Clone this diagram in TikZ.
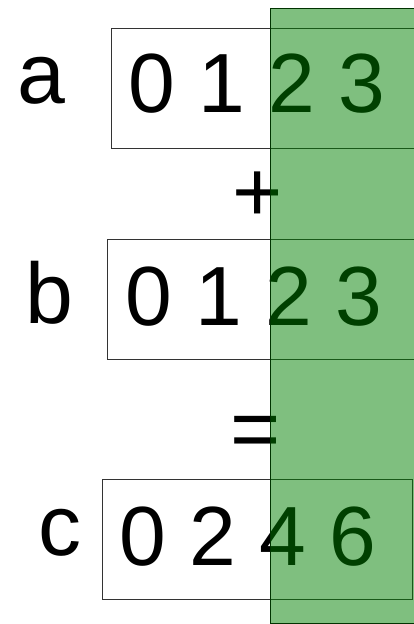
\documentclass[tikz,border=0pt]{standalone}
\usepackage{fontspec}
\setmainfont{Liberation Sans}
\begin{document}
\begin{tikzpicture}[x=1pt,y=1pt,
  box/.style={draw=black!80, line width=0.9pt, fill=white, rectangle, inner sep=0pt, anchor=north west},
  digits/.style={inner sep=0pt, anchor=base west, font=\fontsize{84}{84}\selectfont},
  lbl/.style={inner sep=0pt, anchor=base west, font=\fontsize{86}{86}\selectfont},
  op/.style={inner sep=0pt, anchor=base, font=\fontsize{86}{86}\selectfont},
  hilite/.style={draw=black!80!green, line width=0.9pt, fill=green!50!black, fill opacity=0.5}]
\useasboundingbox (0,0) rectangle (414,624);
\node[box, minimum width=320pt, minimum height=120pt] (boxa) at (111,596) {};
\node[box, minimum width=320pt, minimum height=120pt] (boxb) at (107,385) {};
\node[box, minimum width=310pt, minimum height=120pt] (boxc) at (102,145) {};
\node[digits] (da) at (128.6,511) {0 1 2 3};
\node[digits] (db) at (125.6,298) {0 1 2 3};
\node[digits] (dc) at (119.5,58) {0 2 4 6};
\node[lbl] (la) at (17,520) {a};
\node[lbl] (lb) at (25.5,300) {b};
\node[lbl] (lc) at (38,68) {c};
\node[op] (plus) at (258,402) {+};
\node[op] (eq) at (256,165) {=};
\path[hilite] (270,1) rectangle (430,616);
\end{tikzpicture}
\end{document}
